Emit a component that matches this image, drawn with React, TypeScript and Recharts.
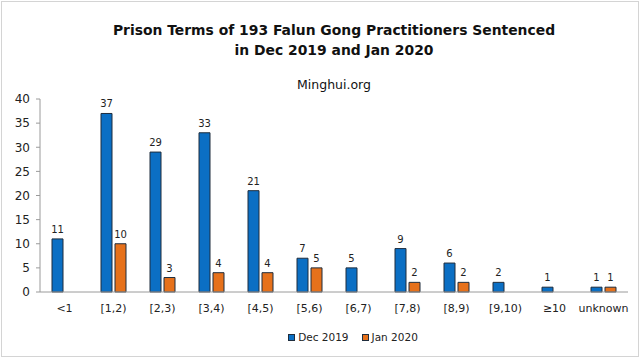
import React from 'react';
import { BarChart, Bar, XAxis, YAxis, Legend, LabelList } from 'recharts';

const categories = ['<1', '[1,2)', '[2,3)', '[3,4)', '[4,5)', '[5,6)', '[6,7)', '[7,8)', '[8,9)', '[9,10)', '≥10', 'unknown'];
const dec2019 = [11, 37, 29, 33, 21, 7, 5, 9, 6, 2, 1, 1];
const jan2020: (number | null)[] = [null, 10, 3, 4, 4, 5, null, 2, 2, null, null, 1];
const yTicks = [0, 5, 10, 15, 20, 25, 30, 35, 40];

const data = categories.map((c, i) => ({ cat: c, dec: dec2019[i], jan: jan2020[i] }));

const BLUE = '#0B6FC4';
const ORANGE = '#E6711B';
const FONT = '"DejaVu Sans", Verdana, sans-serif';

const LegendContent = () => (
  <div style={{ display: 'flex', justifyContent: 'center', fontFamily: FONT, fontSize: 10.5, lineHeight: '14px', color: '#222' }}>
    {[
      { c: BLUE, t: 'Dec 2019' },
      { c: ORANGE, t: 'Jan 2020' },
    ].map((it, i) => (
      <div key={i} style={{ display: 'flex', alignItems: 'center', marginRight: i === 0 ? 13 : 0 }}>
        <span style={{ width: 5, height: 5, background: it.c, border: '1px solid #1f2d3d', marginRight: 3, display: 'inline-block' }} />
        <span>{it.t}</span>
      </div>
    ))}
  </div>
);

export default function App() {
  return (
    <div style={{ position: 'absolute', left: 0, top: 0, width: 640, height: 360, background: '#fff' }}>
      <div style={{ position: 'absolute', left: 1, top: 1, width: 636, height: 354, border: '1px solid #d4d4d4' }} />
      <div style={{ position: 'absolute', left: 40, width: 588, top: 20, textAlign: 'center', fontFamily: FONT, fontWeight: 'bold', fontSize: 13.9, lineHeight: '20px', color: '#111' }}>
        Prison Terms of 193 Falun Gong Practitioners Sentenced
        <br />
        in Dec 2019 and Jan 2020
      </div>
      <div style={{ position: 'absolute', left: 40, width: 588, top: 77, textAlign: 'center', fontFamily: FONT, fontSize: 12.5, color: '#111' }}>
        Minghui.org
      </div>
      <BarChart
        width={640}
        height={360}
        data={data}
        margin={{ top: 99, right: 12, bottom: 38, left: 0 }}
        barCategoryGap={12}
        barGap={3}
        style={{ position: 'absolute', left: 0, top: 0 }}
      >
        <XAxis
          dataKey="cat"
          height={30}
          tickLine={false}
          tickSize={6}
          tickMargin={6}
          axisLine={{ stroke: '#9a9a9a' }}
          tick={{ fontFamily: FONT, fontSize: 11, fill: '#222' }}
          interval={0}
        />
        <YAxis
          width={40}
          domain={[0, 40]}
          ticks={yTicks}
          tickSize={4}
          tickMargin={6}
          axisLine={{ stroke: '#9a9a9a' }}
          tickLine={{ stroke: '#9a9a9a' }}
          tick={{ fontFamily: FONT, fontSize: 12, fill: '#222' }}
          interval={0}
        />
        <Legend
          verticalAlign="middle"
          align="center"
          layout="horizontal"
          content={<LegendContent />}
          wrapperStyle={{ top: 330, left: 43, width: 620 }}
        />
        <Bar dataKey="dec" fill={BLUE} stroke="#1f2d3d" strokeWidth={1} isAnimationActive={false}>
          <LabelList dataKey="dec" position="top" offset={6} style={{ fontFamily: FONT, fontSize: 10, fill: '#222' }} />
        </Bar>
        <Bar dataKey="jan" fill={ORANGE} stroke="#1f2d3d" strokeWidth={1} isAnimationActive={false}>
          <LabelList dataKey="jan" position="top" offset={6} style={{ fontFamily: FONT, fontSize: 10, fill: '#222' }} />
        </Bar>
      </BarChart>
    </div>
  );
}
